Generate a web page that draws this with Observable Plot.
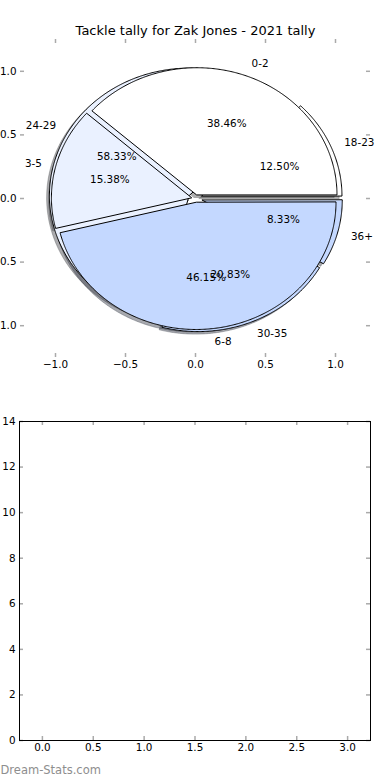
<!DOCTYPE html>
<html><head><meta charset="utf-8">
<script src="https://cdn.jsdelivr.net/npm/d3@7"></script>
<script src="https://cdn.jsdelivr.net/npm/@observablehq/plot@0.6"></script>
<style>
html,body{margin:0;padding:0;background:#fff;}
#chart svg{display:block;}
</style></head><body><div id="chart"></div>
<script>
// ---- data (counts reproduce the printed percentages exactly) ----
const title = "Tackle tally for Zak Jones - 2021 tally";
const innerLabels = ["0-2", "3-5", "6-8"];
const innerCounts = [5, 2, 6];            // 38.46%, 15.38%, 46.15%
const outerLabels = ["18-23", "24-29", "30-35", "36+"];
const outerCounts = [3, 14, 5, 2];        // 12.50%, 58.33%, 20.83%, 8.33%
const innerColors = ["#ffffff", "#eaf1ff", "#c4d8ff"];
const outerColors = ["#ffffff", "#eaf1ff", "#c4d8ff", "#c4d8ff"];
const innerExplode = 0.03;
const outerExplode = 0.05;
const pieTicks = [-1, -0.5, 0, 0.5, 1];
const barXTicks = [0, 0.5, 1, 1.5, 2, 2.5, 3];
const barYTicks = [0, 2, 4, 6, 8, 10, 12, 14];
const watermark = "Dream-Stats.com";

const FONT = "DejaVu Sans, sans-serif";
const TICK = "#aaaaaa";
const fmt1 = d3.format(".1f");
const fmt0 = d3.format("d");

function pieSlices(labels, counts, colors, explode) {
  const total = d3.sum(counts);
  let start = 0;
  return counts.map((c, i) => {
    const frac = c / total;
    const t1 = start * 360, t2 = (start + frac) * 360;
    start += frac;
    const tm = (t1 + t2) / 2 * Math.PI / 180;
    const cx = explode * Math.cos(tm), cy = explode * Math.sin(tm);
    const pts = [[cx, cy]];
    const n = Math.max(2, Math.ceil((t2 - t1) / 0.5));
    for (let k = 0; k <= n; k++) {
      const a = (t1 + (t2 - t1) * k / n) * Math.PI / 180;
      pts.push([cx + Math.cos(a), cy + Math.sin(a)]);
    }
    const lx = cx + 1.1 * Math.cos(tm), ly = cy + 1.1 * Math.sin(tm);
    const px = cx + 0.6 * Math.cos(tm), py = cy + 0.6 * Math.sin(tm);
    return {label: labels[i], pct: (frac * 100).toFixed(2) + "%", color: colors[i], pts, lx, ly, px, py};
  });
}

function shade(color) {
  const c = d3.rgb(color);
  return d3.rgb(c.r * 0.3, c.g * 0.3, c.b * 0.3).formatRgb();
}

const outer = pieSlices(outerLabels, outerCounts, outerColors, outerExplode);
const inner = pieSlices(innerLabels, innerCounts, innerColors, innerExplode);
const allSlices = [...outer, ...inner];

const shadowMarks = allSlices.map(s => Plot.line(s.pts, {
  x: d => d[0] - 0.02, y: d => d[1] - 0.02, curve: "linear-closed",
  fill: shade(s.color), fillOpacity: 0.45, stroke: shade(s.color), strokeOpacity: 0.45, strokeWidth: 0.8
}));
const wedgeMarks = allSlices.map(s => Plot.line(s.pts, {
  x: d => d[0], y: d => d[1], curve: "linear-closed",
  fill: s.color, stroke: "black", strokeWidth: 1, strokeLinejoin: "miter"
}));

const labelStyle = {fontSize: 10.4, fill: "black"};
const textMarks = [];
for (const group of [outer, inner]) {
  textMarks.push(Plot.text(group.filter(s => s.lx >= 0), {x: "lx", y: "ly", text: "label", textAnchor: "start", ...labelStyle}));
  textMarks.push(Plot.text(group.filter(s => s.lx < 0), {x: "lx", y: "ly", text: "label", textAnchor: "end", ...labelStyle}));
  textMarks.push(Plot.text(group, {x: "px", y: "py", text: "pct", textAnchor: "middle", ...labelStyle}));
}

function tickMarks(xt, yt, fw, fh) {
  const o = {stroke: TICK, strokeWidth: 1.5};
  return [
    Plot.tickX(xt, {x: d => d, insetTop: fh - 4, ...o}),
    Plot.tickX(xt, {x: d => d, insetBottom: fh - 4, ...o}),
    Plot.tickY(yt, {y: d => d, insetRight: fw - 4, ...o}),
    Plot.tickY(yt, {y: d => d, insetLeft: fw - 4, ...o})
  ];
}

// ---- top: pie axes ----
const topW = 390, topH = 380, tML = 20, tMR = 20, tMT = 39, tMB = 23;
const pie = Plot.plot({
  width: topW, height: topH,
  marginLeft: tML, marginRight: tMR, marginTop: tMT, marginBottom: tMB,
  x: {domain: [-1.25, 1.25]},
  y: {domain: [-1.25, 1.25]},
  style: {fontFamily: FONT, fontSize: "10.4px", background: "white", color: "black"},
  marks: [
    ...shadowMarks,
    ...wedgeMarks,
    ...textMarks,
    ...tickMarks(pieTicks, pieTicks, topW - tML - tMR, topH - tMT - tMB),
    Plot.axisX(pieTicks, {tickSize: 0, tickPadding: 3, tickFormat: fmt1, label: null, fontSize: 10.4}),
    Plot.axisY(pieTicks, {tickSize: 0, tickPadding: 4, tickFormat: fmt1, label: null, fontSize: 10.4}),
    Plot.text([title], {frameAnchor: "top", lineAnchor: "middle", dy: -9, fontSize: 13, textAnchor: "middle", fill: "black"})
  ]
});

// ---- bottom: empty axes ----
const botW = 390, botH = 400, bML = 19, bMR = 20, bMT = 41, bMB = 40;
const bars = Plot.plot({
  width: botW, height: botH,
  marginLeft: bML, marginRight: bMR, marginTop: bMT, marginBottom: bMB,
  x: {domain: [-0.225, 3.225]},
  y: {domain: [0, 14]},
  style: {fontFamily: FONT, fontSize: "10.4px", background: "white", color: "black"},
  marks: [
    ...tickMarks(barXTicks, barYTicks, botW - bML - bMR, botH - bMT - bMB),
    Plot.frame({stroke: "black", strokeWidth: 1}),
    Plot.axisX(barXTicks, {tickSize: 0, tickPadding: 3, tickFormat: fmt1, label: null, fontSize: 10.4}),
    Plot.axisY(barYTicks, {tickSize: 0, tickPadding: 4, tickFormat: fmt0, label: null, fontSize: 10.4}),
    Plot.text([watermark], {frameAnchor: "bottom-left", lineAnchor: "middle", dx: -bML, dy: 30, textAnchor: "start", fontSize: 11.5, fill: "#8e8e8e"})
  ]
});

const root = document.getElementById("chart");
root.appendChild(pie);
root.appendChild(bars);
</script>
</body></html>
